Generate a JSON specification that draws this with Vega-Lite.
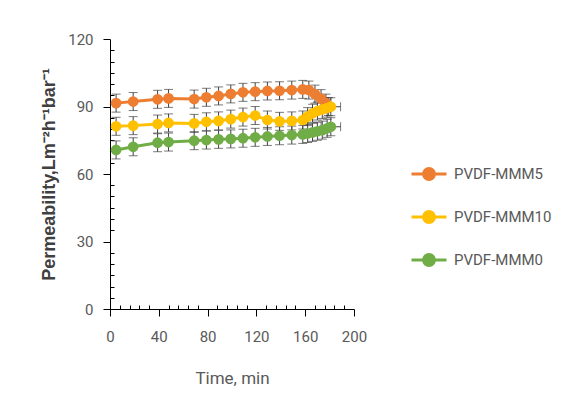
{
  "$schema": "https://vega.github.io/schema/vega-lite/v6.json",
  "width": 244,
  "height": 270,
  "autosize": "none",
  "padding": {"left": 110, "top": 39, "right": 220, "bottom": 110},
  "background": "white",
  "config": {
    "view": {"stroke": null},
    "font": "Roboto"
  },
  "datasets": {
    "main": [
      {"series": "PVDF-MMM5", "t": 5, "v": 91.5, "err": 4},
      {"series": "PVDF-MMM5", "t": 19, "v": 92.2, "err": 4},
      {"series": "PVDF-MMM5", "t": 39, "v": 93.2, "err": 4},
      {"series": "PVDF-MMM5", "t": 48, "v": 93.6, "err": 4},
      {"series": "PVDF-MMM5", "t": 69, "v": 93.3, "err": 4},
      {"series": "PVDF-MMM5", "t": 79, "v": 94.1, "err": 4},
      {"series": "PVDF-MMM5", "t": 89, "v": 94.7, "err": 4},
      {"series": "PVDF-MMM5", "t": 99, "v": 95.6, "err": 4},
      {"series": "PVDF-MMM5", "t": 109, "v": 96.3, "err": 4},
      {"series": "PVDF-MMM5", "t": 119, "v": 96.6, "err": 4},
      {"series": "PVDF-MMM5", "t": 129, "v": 96.9, "err": 4},
      {"series": "PVDF-MMM5", "t": 139, "v": 97.0, "err": 4},
      {"series": "PVDF-MMM5", "t": 149, "v": 97.3, "err": 4},
      {"series": "PVDF-MMM5", "t": 158, "v": 97.6, "err": 4},
      {"series": "PVDF-MMM5", "t": 163, "v": 97.3, "err": 4},
      {"series": "PVDF-MMM5", "t": 168, "v": 95.5, "err": 4},
      {"series": "PVDF-MMM5", "t": 173, "v": 93.5, "err": 4},
      {"series": "PVDF-MMM5", "t": 177, "v": 91.5, "err": 4},
      {"series": "PVDF-MMM5", "t": 179, "v": 90.0, "err": 4},
      {"series": "PVDF-MMM10", "t": 5, "v": 81.2, "err": 4},
      {"series": "PVDF-MMM10", "t": 19, "v": 81.5, "err": 4},
      {"series": "PVDF-MMM10", "t": 39, "v": 82.2, "err": 4},
      {"series": "PVDF-MMM10", "t": 48, "v": 82.7, "err": 4},
      {"series": "PVDF-MMM10", "t": 69, "v": 82.5, "err": 4},
      {"series": "PVDF-MMM10", "t": 79, "v": 83.2, "err": 4},
      {"series": "PVDF-MMM10", "t": 89, "v": 83.6, "err": 4},
      {"series": "PVDF-MMM10", "t": 99, "v": 84.4, "err": 4},
      {"series": "PVDF-MMM10", "t": 109, "v": 85.3, "err": 4},
      {"series": "PVDF-MMM10", "t": 119, "v": 86.0, "err": 4},
      {"series": "PVDF-MMM10", "t": 129, "v": 84.0, "err": 4},
      {"series": "PVDF-MMM10", "t": 139, "v": 83.4, "err": 4},
      {"series": "PVDF-MMM10", "t": 149, "v": 83.6, "err": 4},
      {"series": "PVDF-MMM10", "t": 158, "v": 84.0, "err": 4},
      {"series": "PVDF-MMM10", "t": 162, "v": 85.5, "err": 4},
      {"series": "PVDF-MMM10", "t": 166, "v": 87.0, "err": 4},
      {"series": "PVDF-MMM10", "t": 170, "v": 88.0, "err": 4},
      {"series": "PVDF-MMM10", "t": 174, "v": 88.7, "err": 4},
      {"series": "PVDF-MMM10", "t": 178, "v": 89.3, "err": 4},
      {"series": "PVDF-MMM10", "t": 181, "v": 89.9, "err": 4},
      {"series": "PVDF-MMM0", "t": 5, "v": 70.7, "err": 4},
      {"series": "PVDF-MMM0", "t": 19, "v": 72.1, "err": 4},
      {"series": "PVDF-MMM0", "t": 39, "v": 73.9, "err": 4},
      {"series": "PVDF-MMM0", "t": 48, "v": 74.2, "err": 4},
      {"series": "PVDF-MMM0", "t": 69, "v": 74.8, "err": 4},
      {"series": "PVDF-MMM0", "t": 79, "v": 75.1, "err": 4},
      {"series": "PVDF-MMM0", "t": 89, "v": 75.4, "err": 4},
      {"series": "PVDF-MMM0", "t": 99, "v": 75.6, "err": 4},
      {"series": "PVDF-MMM0", "t": 109, "v": 75.9, "err": 4},
      {"series": "PVDF-MMM0", "t": 119, "v": 76.3, "err": 4},
      {"series": "PVDF-MMM0", "t": 129, "v": 76.7, "err": 4},
      {"series": "PVDF-MMM0", "t": 139, "v": 77.0, "err": 4},
      {"series": "PVDF-MMM0", "t": 149, "v": 77.3, "err": 4},
      {"series": "PVDF-MMM0", "t": 158, "v": 77.6, "err": 4},
      {"series": "PVDF-MMM0", "t": 162, "v": 78.0, "err": 4},
      {"series": "PVDF-MMM0", "t": 166, "v": 78.5, "err": 4},
      {"series": "PVDF-MMM0", "t": 170, "v": 79.0, "err": 4},
      {"series": "PVDF-MMM0", "t": 174, "v": 79.5, "err": 4},
      {"series": "PVDF-MMM0", "t": 178, "v": 80.3, "err": 4},
      {"series": "PVDF-MMM0", "t": 181, "v": 81.0, "err": 4}
    ],
    "xerr": [
      {"series": "PVDF-MMM10", "t": 181, "v": 89.9, "xe": 8},
      {"series": "PVDF-MMM0", "t": 181, "v": 81.0, "xe": 8}
    ]
  },
  "data": {"name": "main"},
  "encoding": {
    "x": {
      "field": "t",
      "type": "quantitative",
      "scale": {"domain": [0, 200], "nice": false},
      "axis": {
        "title": "Time, min",
        "titleFont": "Roboto",
        "titleFontSize": 17,
        "titleFontWeight": "normal",
        "titleColor": "#595959",
        "titlePadding": 26,
        "values": [0, 8, 16, 24, 32, 40, 48, 56, 64, 72, 80, 88, 96, 104, 112, 120, 128, 136, 144, 152, 160, 168, 176, 184, 192, 200],
        "labelExpr": "datum.value % 40 === 0 ? datum.label : ''",
        "labelFont": "Roboto",
        "labelFontSize": 15,
        "labelColor": "#595959",
        "labelPadding": 13,
        "labelFlush": false,
        "labelOverlap": false,
        "domainColor": "#000000",
        "tickColor": "#000000",
        "tickSize": {"condition": {"test": "datum.value % 40 === 0", "value": 7}, "value": -4},
        "grid": false
      }
    },
    "y": {
      "field": "v",
      "type": "quantitative",
      "scale": {"domain": [0, 120], "nice": false},
      "axis": {
        "title": "Permeability,Lm⁻²h⁻¹bar⁻¹",
        "titleFont": "Liberation Sans",
        "titleFontSize": 18,
        "titleFontWeight": "bold",
        "titleColor": "#404040",
        "titlePadding": 9,
        "values": [0, 5, 10, 15, 20, 25, 30, 35, 40, 45, 50, 55, 60, 65, 70, 75, 80, 85, 90, 95, 100, 105, 110, 115, 120],
        "labelExpr": "datum.value % 30 === 0 ? datum.label : ''",
        "labelFont": "Roboto",
        "labelFontSize": 15,
        "labelColor": "#595959",
        "labelPadding": 10,
        "labelFlush": false,
        "labelOverlap": false,
        "domainColor": "#000000",
        "tickColor": "#000000",
        "tickSize": {"condition": {"test": "datum.value % 30 === 0", "value": 7}, "value": -4},
        "grid": false
      }
    }
  },
  "layer": [
    {
      "mark": {"type": "errorbar", "color": "#404040", "thickness": 1, "ticks": {"size": 9, "color": "#404040", "thickness": 1}},
      "encoding": {
        "yError": {"field": "err"},
        "detail": {"field": "series"}
      }
    },
    {
      "data": {"name": "xerr"},
      "mark": {"type": "errorbar", "color": "#404040", "thickness": 1, "ticks": {"size": 9, "color": "#404040", "thickness": 1}},
      "encoding": {
        "xError": {"field": "xe"}
      }
    },
    {
      "mark": {"type": "line", "strokeWidth": 3},
      "encoding": {
        "color": {
          "field": "series",
          "type": "nominal",
          "scale": {"domain": ["PVDF-MMM5", "PVDF-MMM10", "PVDF-MMM0"], "range": ["#ED7D31", "#FFC000", "#70AD47"]},
          "sort": null,
          "legend": {
            "orient": "none",
            "legendX": 300,
            "legendY": 116,
            "title": null,
            "symbolType": "M-1,0H1M-0.31,0A0.31,0.31,0,1,1,0.31,0A0.31,0.31,0,1,1,-0.31,0",
            "symbolSize": 1225,
            "symbolStrokeWidth": 3,
            "rowPadding": 12,
            "labelFontSize": 15,
            "labelFont": "Roboto",
            "labelColor": "#595959",
            "labelOffset": 6
          }
        }
      }
    },
    {
      "mark": {"type": "point", "filled": true, "size": 115, "opacity": 1},
      "encoding": {
        "color": {"field": "series", "type": "nominal", "sort": null}
      }
    }
  ]
}
